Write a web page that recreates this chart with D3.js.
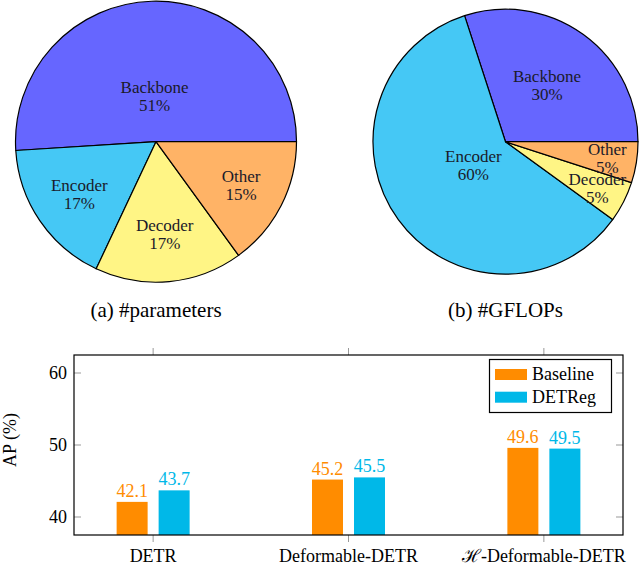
<!DOCTYPE html>
<html>
<head>
<meta charset="utf-8">
<script src="https://cdn.jsdelivr.net/npm/d3@7"></script>
<style>
  body { margin: 0; background: #fff; }
</style>
</head>
<body>
<div id="chart"></div>
<script>
// pie data
const parts = ["Backbone", "Encoder", "Decoder", "Other"];
const paramShare = [51, 17, 17, 15];
const flopShare = [30, 60, 5, 5];
const partColors = ["#6666ff", "#45c8f5", "#fff585", "#ffb366"];

// bar data
const models = ["DETR", "Deformable-DETR", "\u210B-Deformable-DETR"];
const baselineAP = [42.1, 45.2, 49.6];
const detregAP = [43.7, 45.5, 49.5];
const seriesNames = ["Baseline", "DETReg"];
const seriesColors = ["#ff8c00", "#00b8e8"];
const yTicks = [40, 50, 60];

const svg = d3.select("#chart").append("svg")
    .attr("width", 640)
    .attr("height", 565)
    .style("display", "block");

// pgf-pie style: counterclockwise from 3 o'clock
function drawPie(values, cx, cy, r, caption, capY) {
    let g = svg.append("g").attr("transform", "translate(" + cx + "," + cy + ")");
    let pie = d3.pie().sort(null)
        .startAngle(Math.PI / 2)
        .endAngle(Math.PI / 2 - 2 * Math.PI);
    let arcs = pie(values);
    let arc = d3.arc().innerRadius(0).outerRadius(r);

    g.selectAll("path")
        .data(arcs)
        .enter().append("path")
        .attr("d", arc)
        .attr("fill", function(d, i){ return partColors[i]; })
        .attr("stroke", "#000")
        .attr("stroke-width", 1.2)
        .attr("stroke-linejoin", "round");

    arcs.forEach(function(d, i){
        //label distance shrinks for wide slices
        let span = Math.abs(d.endAngle - d.startAngle) * 180 / Math.PI;
        let f = 0.8 + Math.max(Math.min(-(span - 10) * 0.3 / 110, 0), -0.5);
        let p = d3.arc().innerRadius(r * f).outerRadius(r * f).centroid(d);
        let t = g.append("text")
            .attr("text-anchor", "middle")
            .attr("font-size", 17)
            .attr("fill", "#1a1a2a");
        t.append("tspan").attr("x", p[0]).attr("y", p[1] - 3).text(parts[i]);
        t.append("tspan").attr("x", p[0]).attr("y", p[1] + 15).text(values[i] + "%");
    });

    svg.append("text")
        .attr("x", cx)
        .attr("y", capY)
        .attr("text-anchor", "middle")
        .attr("font-size", 21)
        .text(caption);
}

drawPie(paramShare, 156, 141.7, 140.5, "(a) #parameters", 317);
drawPie(flopShare, 505.5, 141.7, 132.5, "(b) #GFLOPs", 317);

// bar chart
const pLeft = 74, pRight = 623, pTop = 355, pBottom = 535;
const x = d3.scaleLinear().domain([-0.405, 2.405]).range([pLeft, pRight]);
const y = d3.scaleLinear().domain([37.5, 62.5]).range([pBottom, pTop]);
const barW = 31, shift = 21;

let bars = svg.append("g");

// gray ticks
let tg = svg.append("g").attr("stroke", "#999").attr("stroke-width", 1);
yTicks.forEach(function(v){
    tg.append("line").attr("x1", pLeft).attr("x2", pLeft + 7).attr("y1", y(v)).attr("y2", y(v));
    tg.append("line").attr("x1", pRight - 7).attr("x2", pRight).attr("y1", y(v)).attr("y2", y(v));
});
models.forEach(function(m, i){
    tg.append("line").attr("x1", x(i)).attr("x2", x(i)).attr("y1", pTop - 7).attr("y2", pTop);
    tg.append("line").attr("x1", x(i)).attr("x2", x(i)).attr("y1", pBottom).attr("y2", pBottom + 7);
});

[baselineAP, detregAP].forEach(function(vals, s){
    let off = s == 0 ? -shift : shift;
    bars.selectAll(".bar" + s)
        .data(vals)
        .enter().append("rect")
        .attr("x", function(d, i){ return x(i) + off - barW / 2; })
        .attr("y", function(d){ return y(d); })
        .attr("width", barW)
        .attr("height", function(d){ return y(37.5) - y(d); })
        .attr("fill", seriesColors[s]);
    bars.selectAll(".lab" + s)
        .data(vals)
        .enter().append("text")
        .attr("x", function(d, i){ return x(i) + off; })
        .attr("y", function(d){ return y(d) - 5; })
        .attr("text-anchor", "middle")
        .attr("font-size", 18)
        .attr("fill", seriesColors[s])
        .text(function(d){ return d.toFixed(1); });
});

// frame
svg.append("rect")
    .attr("x", pLeft).attr("y", pTop)
    .attr("width", pRight - pLeft).attr("height", pBottom - pTop)
    .attr("fill", "none").attr("stroke", "#000").attr("stroke-width", 1.2);

// y tick labels
svg.selectAll(".ytl")
    .data(yTicks)
    .enter().append("text")
    .attr("x", pLeft - 7)
    .attr("y", function(d){ return y(d) + 6; })
    .attr("text-anchor", "end")
    .attr("font-size", 18)
    .text(function(d){ return d; });

// x tick labels
svg.selectAll(".xtl")
    .data(models)
    .enter().append("text")
    .attr("x", function(d, i){ return x(i); })
    .attr("y", 562)
    .attr("text-anchor", "middle")
    .attr("font-size", 18)
    .text(function(d){ return d; });

svg.append("text")
    .attr("transform", "translate(16," + ((pTop + pBottom) / 2 - 5) + ") rotate(-90)")
    .attr("text-anchor", "middle")
    .attr("font-size", 18)
    .text("AP (%)");

// legend
let lg = svg.append("g");
lg.append("rect")
    .attr("x", 489.5).attr("y", 359.5)
    .attr("width", 122).attr("height", 53)
    .attr("fill", "#fff").attr("stroke", "#000").attr("stroke-width", 1.2);
seriesNames.forEach(function(n, i){
    lg.append("rect")
        .attr("x", 495).attr("y", 369 + i * 22.7)
        .attr("width", 32).attr("height", 11)
        .attr("fill", seriesColors[i]);
    lg.append("text")
        .attr("x", 532).attr("y", 380 + i * 22.7)
        .attr("font-size", 18)
        .text(n);
});

// serif everywhere
svg.selectAll("text").attr("font-family", "Liberation Serif");
</script>
</body>
</html>
